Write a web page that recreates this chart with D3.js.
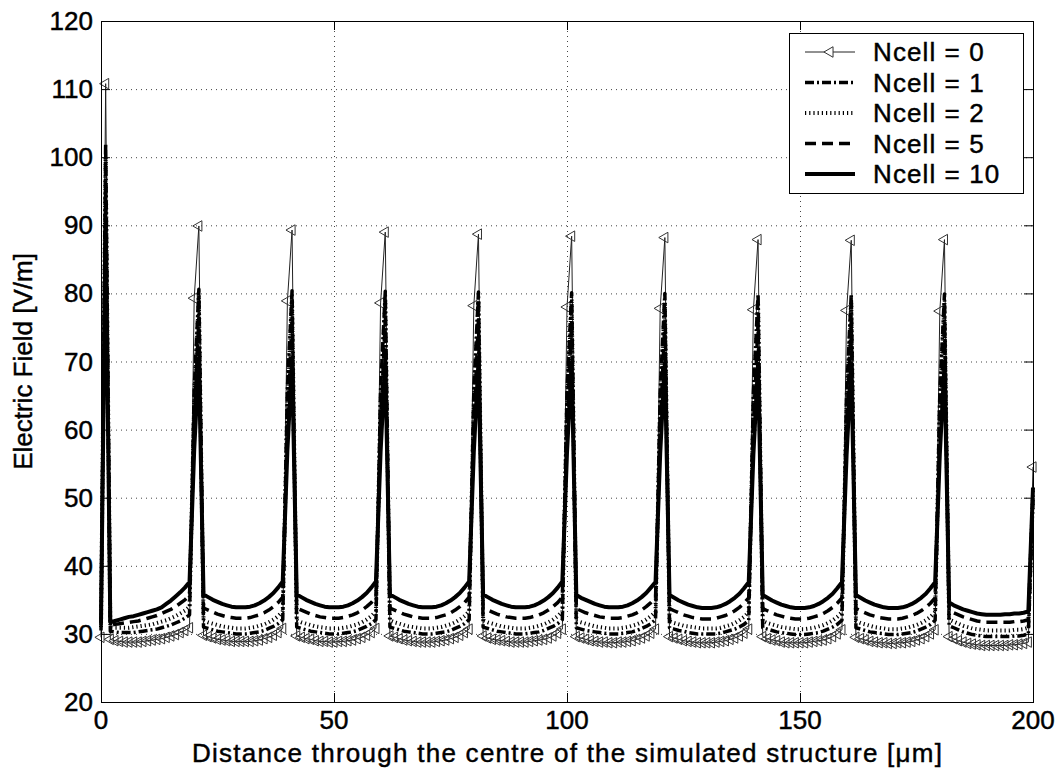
<!DOCTYPE html>
<html>
<head>
<meta charset="utf-8">
<script src="https://d3js.org/d3.v7.min.js"></script>
<style>
    body { margin: 0; background: #fff; }
    text { font-family: "Liberation Sans", Arial, sans-serif; fill: #000; stroke: #000; stroke-width: 0.45px; }
</style>
</head>
<body>
<script>
// samples every 1 um along the structure (0..200)
const xPos = d3.range(0, 201);
const xTicks = [0, 50, 100, 150, 200];
const yTicks = [20, 30, 40, 50, 60, 70, 80, 90, 100, 110, 120];
const seriesNames = ["Ncell = 0", "Ncell = 1", "Ncell = 2", "Ncell = 5", "Ncell = 10"];

// one row per cell: peak, 18 points of the bowl, rise before the next peak
const ncell0 = [29.5,
    110.8, 29.2, 29.0, 28.9, 28.8, 28.8, 28.8, 28.8, 28.9, 29.0, 29.1, 29.2, 29.3, 29.5, 29.7, 29.9, 30.2, 30.5, 30.9, 79.3,
    89.9, 29.8, 29.6, 29.4, 29.2, 29.1, 29.0, 28.9, 28.9, 28.9, 28.9, 28.9, 29.0, 29.1, 29.3, 29.5, 29.8, 30.2, 30.8, 78.9,
    89.3, 29.7, 29.5, 29.3, 29.2, 29.0, 28.9, 28.9, 28.8, 28.8, 28.9, 28.9, 29.0, 29.1, 29.3, 29.5, 29.8, 30.2, 30.8, 78.6,
    89.0, 29.7, 29.5, 29.3, 29.1, 29.0, 28.9, 28.8, 28.8, 28.8, 28.8, 28.9, 29.0, 29.1, 29.3, 29.5, 29.8, 30.2, 30.7, 78.2,
    88.7, 29.7, 29.4, 29.2, 29.1, 29.0, 28.9, 28.8, 28.8, 28.8, 28.8, 28.9, 29.0, 29.1, 29.2, 29.4, 29.7, 30.1, 30.7, 78.0,
    88.4, 29.6, 29.4, 29.2, 29.0, 28.9, 28.8, 28.8, 28.7, 28.7, 28.8, 28.8, 28.9, 29.0, 29.2, 29.4, 29.7, 30.1, 30.7, 77.8,
    88.2, 29.6, 29.4, 29.2, 29.0, 28.9, 28.8, 28.7, 28.7, 28.7, 28.7, 28.8, 28.9, 29.0, 29.2, 29.4, 29.7, 30.1, 30.7, 77.6,
    87.9, 29.6, 29.3, 29.1, 29.0, 28.8, 28.7, 28.7, 28.7, 28.7, 28.7, 28.8, 28.9, 29.0, 29.1, 29.3, 29.6, 30.0, 30.6, 77.5,
    87.8, 29.5, 29.3, 29.1, 28.9, 28.8, 28.7, 28.7, 28.6, 28.6, 28.7, 28.7, 28.8, 28.9, 29.1, 29.3, 29.6, 30.0, 30.6, 77.4,
    87.9, 29.6, 29.3, 29.0, 28.8, 28.6, 28.5, 28.4, 28.3, 28.3, 28.3, 28.3, 28.3, 28.3, 28.4, 28.4, 28.5, 28.6, 28.8, 54.5
];
const ncell1 = [30.5,
    102.0, 30.4, 30.3, 30.2, 30.2, 30.2, 30.2, 30.3, 30.4, 30.5, 30.6, 30.7, 30.9, 31.1, 31.3, 31.6, 31.9, 32.3, 32.8, 66.0,
    80.6, 31.0, 30.8, 30.6, 30.4, 30.3, 30.2, 30.1, 30.0, 30.0, 30.0, 30.1, 30.2, 30.3, 30.5, 30.8, 31.1, 31.5, 32.1, 66.0,
    80.4, 31.0, 30.8, 30.6, 30.4, 30.3, 30.2, 30.1, 30.0, 30.0, 30.0, 30.1, 30.2, 30.3, 30.5, 30.8, 31.1, 31.5, 32.1, 65.8,
    80.3, 31.0, 30.8, 30.6, 30.4, 30.3, 30.2, 30.1, 30.0, 30.0, 30.0, 30.1, 30.2, 30.3, 30.5, 30.8, 31.1, 31.5, 32.1, 65.7,
    80.2, 31.0, 30.8, 30.6, 30.4, 30.3, 30.2, 30.1, 30.0, 30.0, 30.0, 30.1, 30.2, 30.3, 30.5, 30.8, 31.1, 31.5, 32.1, 65.6,
    80.1, 30.9, 30.7, 30.5, 30.4, 30.3, 30.2, 30.1, 30.0, 30.0, 30.0, 30.1, 30.2, 30.3, 30.5, 30.8, 31.1, 31.5, 32.1, 65.5,
    80.0, 30.9, 30.7, 30.5, 30.4, 30.2, 30.1, 30.0, 30.0, 30.0, 30.0, 30.0, 30.1, 30.3, 30.5, 30.7, 31.0, 31.4, 32.0, 65.4,
    79.9, 30.9, 30.7, 30.5, 30.3, 30.2, 30.1, 30.0, 29.9, 29.9, 29.9, 30.0, 30.1, 30.2, 30.4, 30.7, 31.0, 31.4, 32.0, 65.3,
    79.9, 30.9, 30.7, 30.5, 30.3, 30.2, 30.1, 30.0, 29.9, 29.9, 29.9, 30.0, 30.1, 30.2, 30.4, 30.7, 31.0, 31.4, 32.0, 65.3,
    79.9, 31.2, 30.9, 30.6, 30.3, 30.1, 29.9, 29.8, 29.7, 29.6, 29.6, 29.6, 29.6, 29.6, 29.6, 29.7, 29.7, 29.8, 30.0, 50.0
];
const ncell2 = [31.0,
    100.0, 31.0, 30.9, 30.9, 30.9, 30.9, 31.0, 31.1, 31.2, 31.3, 31.4, 31.6, 31.8, 32.0, 32.3, 32.6, 33.0, 33.4, 34.0, 64.0,
    79.3, 32.0, 31.7, 31.5, 31.3, 31.1, 31.0, 30.9, 30.8, 30.8, 30.8, 30.9, 31.0, 31.2, 31.4, 31.7, 32.1, 32.6, 33.3, 64.0,
    79.1, 32.0, 31.7, 31.5, 31.3, 31.1, 31.0, 30.9, 30.8, 30.8, 30.8, 30.9, 31.0, 31.2, 31.4, 31.7, 32.1, 32.6, 33.3, 63.8,
    79.0, 32.0, 31.7, 31.5, 31.3, 31.1, 31.0, 30.9, 30.8, 30.8, 30.8, 30.9, 31.0, 31.2, 31.4, 31.7, 32.1, 32.6, 33.3, 63.7,
    78.9, 32.0, 31.7, 31.5, 31.3, 31.1, 31.0, 30.9, 30.8, 30.8, 30.8, 30.9, 31.0, 31.2, 31.4, 31.7, 32.1, 32.6, 33.3, 63.6,
    78.8, 31.9, 31.7, 31.5, 31.3, 31.1, 31.0, 30.9, 30.8, 30.8, 30.8, 30.9, 31.0, 31.2, 31.4, 31.7, 32.1, 32.6, 33.2, 63.5,
    78.7, 31.9, 31.6, 31.4, 31.2, 31.1, 31.0, 30.9, 30.8, 30.8, 30.8, 30.8, 30.9, 31.1, 31.3, 31.6, 32.0, 32.5, 33.2, 63.4,
    78.6, 31.9, 31.6, 31.4, 31.2, 31.0, 30.9, 30.8, 30.7, 30.7, 30.7, 30.8, 30.9, 31.1, 31.3, 31.6, 32.0, 32.5, 33.2, 63.3,
    78.6, 31.9, 31.6, 31.4, 31.2, 31.0, 30.9, 30.8, 30.7, 30.7, 30.7, 30.8, 30.9, 31.1, 31.3, 31.6, 32.0, 32.5, 33.2, 63.3,
    78.6, 32.1, 31.8, 31.5, 31.2, 31.0, 30.8, 30.7, 30.6, 30.5, 30.5, 30.5, 30.5, 30.5, 30.5, 30.6, 30.6, 30.7, 30.9, 50.5
];
const ncell5 = [31.3,
    96.0, 31.3, 31.4, 31.5, 31.6, 31.7, 31.8, 31.9, 32.1, 32.3, 32.5, 32.7, 33.0, 33.3, 33.6, 34.0, 34.5, 35.0, 35.7, 61.0,
    76.4, 33.8, 33.5, 33.2, 32.9, 32.7, 32.5, 32.4, 32.3, 32.3, 32.3, 32.4, 32.6, 32.8, 33.1, 33.5, 34.0, 34.6, 35.4, 61.0,
    76.2, 33.8, 33.5, 33.2, 32.9, 32.7, 32.5, 32.4, 32.3, 32.3, 32.3, 32.4, 32.6, 32.8, 33.1, 33.5, 34.0, 34.6, 35.4, 60.8,
    76.1, 33.8, 33.5, 33.2, 32.9, 32.7, 32.5, 32.4, 32.3, 32.3, 32.3, 32.4, 32.6, 32.8, 33.1, 33.5, 34.0, 34.6, 35.4, 60.7,
    76.0, 33.8, 33.5, 33.2, 32.9, 32.7, 32.5, 32.4, 32.3, 32.3, 32.3, 32.4, 32.6, 32.8, 33.1, 33.5, 34.0, 34.6, 35.4, 60.6,
    75.9, 33.7, 33.4, 33.1, 32.9, 32.7, 32.5, 32.4, 32.3, 32.3, 32.3, 32.4, 32.6, 32.8, 33.1, 33.5, 34.0, 34.6, 35.3, 60.5,
    75.8, 33.7, 33.4, 33.1, 32.8, 32.6, 32.4, 32.3, 32.2, 32.2, 32.2, 32.3, 32.5, 32.7, 33.0, 33.4, 33.9, 34.5, 35.3, 60.4,
    75.7, 33.7, 33.4, 33.1, 32.8, 32.6, 32.4, 32.3, 32.2, 32.2, 32.2, 32.3, 32.5, 32.7, 33.0, 33.4, 33.9, 34.5, 35.3, 60.3,
    75.7, 33.7, 33.4, 33.1, 32.8, 32.6, 32.4, 32.3, 32.2, 32.2, 32.2, 32.3, 32.5, 32.7, 33.0, 33.4, 33.9, 34.5, 35.3, 60.3,
    75.6, 33.4, 33.1, 32.8, 32.5, 32.3, 32.1, 31.9, 31.8, 31.7, 31.7, 31.7, 31.7, 31.7, 31.7, 31.8, 31.8, 31.9, 32.1, 51.0
];
const ncell10 = [31.7,
    90.0, 31.7, 31.9, 32.1, 32.3, 32.5, 32.6, 32.8, 33.0, 33.2, 33.4, 33.6, 33.9, 34.4, 34.9, 35.5, 36.1, 36.8, 37.6, 57.0,
    70.4, 35.8, 35.4, 35.0, 34.7, 34.4, 34.2, 34.0, 33.9, 33.9, 33.9, 34.0, 34.2, 34.5, 34.9, 35.4, 36.0, 36.8, 37.7, 57.0,
    70.2, 35.8, 35.4, 35.0, 34.7, 34.4, 34.2, 34.0, 33.9, 33.9, 33.9, 34.0, 34.2, 34.5, 34.9, 35.4, 36.0, 36.8, 37.7, 56.8,
    70.1, 35.8, 35.4, 35.0, 34.7, 34.4, 34.2, 34.0, 33.9, 33.9, 33.9, 34.0, 34.2, 34.5, 34.9, 35.4, 36.0, 36.8, 37.7, 56.7,
    70.0, 35.8, 35.4, 35.0, 34.7, 34.4, 34.2, 34.0, 33.9, 33.9, 33.9, 34.0, 34.2, 34.5, 34.9, 35.4, 36.0, 36.8, 37.7, 56.6,
    69.9, 35.7, 35.3, 35.0, 34.7, 34.4, 34.2, 34.0, 33.9, 33.9, 33.9, 34.0, 34.2, 34.5, 34.9, 35.4, 36.0, 36.8, 37.6, 56.5,
    69.8, 35.7, 35.3, 34.9, 34.6, 34.3, 34.1, 33.9, 33.8, 33.8, 33.8, 33.9, 34.1, 34.4, 34.8, 35.3, 35.9, 36.7, 37.6, 56.4,
    69.7, 35.7, 35.3, 34.9, 34.6, 34.3, 34.1, 33.9, 33.8, 33.8, 33.8, 33.9, 34.1, 34.4, 34.8, 35.3, 35.9, 36.7, 37.6, 56.3,
    69.7, 35.7, 35.3, 34.9, 34.6, 34.3, 34.1, 33.9, 33.8, 33.8, 33.8, 33.9, 34.1, 34.4, 34.8, 35.3, 35.9, 36.7, 37.6, 56.3,
    69.5, 34.6, 34.2, 33.9, 33.6, 33.4, 33.2, 33.0, 32.9, 32.8, 32.8, 32.8, 32.8, 32.9, 32.9, 33.0, 33.0, 33.1, 33.3, 51.5
];

const allSeries = [ncell0, ncell1, ncell2, ncell5, ncell10];

// line styles, matlab-ish: '-<', '-.', ':', '--', '-'
// the dotted one is drawn wide with 1px dashes so it shows as little vertical ticks
const lineStyles = [
    {width: 1,   dash: null,      color: "#222"},
    {width: 3.5, dash: "9,3,2,3", color: "#000"},
    {width: 4,   dash: "1.2,3",   color: "#000"},
    {width: 3.5, dash: "11,6",    color: "#000"},
    {width: 4,   dash: null,      color: "#000"}
];

const width = 1061;
const height = 772;
const margin = {top: 21, right: 28, bottom: 70, left: 101};
const fontSize = 26;

const svg = d3.select("body")
    .append("svg")
    .attr("width", width)
    .attr("height", height);

svg.append("rect").attr("width", width).attr("height", height).attr("fill", "#fff");

const xScale = d3.scaleLinear()
    .domain([0, 200])
    .range([margin.left, width - margin.right]);
const yScale = d3.scaleLinear()
    .domain([20, 120])
    .range([height - margin.bottom, margin.top]);

const x0 = xScale.range()[0], x1 = xScale.range()[1];
const y0 = yScale.range()[0], y1 = yScale.range()[1];

// dotted grid
const grid = svg.append("g")
    .attr("stroke", "#444")
    .attr("stroke-width", 1)
    .attr("stroke-dasharray", "1,4");
grid.selectAll(".vgrid")
    .data(xTicks.slice(1, -1))
    .join("line")
    .attr("x1", d => xScale(d) + 0.5).attr("x2", d => xScale(d) + 0.5)
    .attr("y1", y1).attr("y2", y0);
grid.selectAll(".hgrid")
    .data(yTicks.slice(1, -1))
    .join("line")
    .attr("x1", x0).attr("x2", x1)
    .attr("y1", d => yScale(d) + 0.5).attr("y2", d => yScale(d) + 0.5);

// curves
const lineGen = d3.line()
    .x((d, i) => xScale(xPos[i]))
    .y(d => yScale(d));

const triangle = d3.symbol().type(d3.symbolTriangle).size(48);

const plot = svg.append("g");
allSeries.forEach((values, k) => {
    const st = lineStyles[k];
    plot.append("path")
        .attr("d", lineGen(values))
        .attr("fill", "none")
        .attr("stroke", st.color)
        .attr("stroke-width", st.width)
        .attr("stroke-linejoin", "round")
        .attr("stroke-dasharray", st.dash);
    if (k === 0) {
        // left pointing triangles on every sample
        plot.append("g").selectAll("path")
            .data(values)
            .join("path")
            .attr("d", triangle)
            .attr("transform", (d, i) => `translate(${xScale(xPos[i])},${yScale(d)}) rotate(-90)`)
            .attr("fill", "none")
            .attr("stroke", "#333")
            .attr("stroke-width", 1);
    }
});

// box + inward ticks on all four sides
const tickLen = 9;
const axes = svg.append("g").attr("stroke", "#000").attr("stroke-width", 1).attr("fill", "none");
axes.append("rect")
    .attr("x", x0 + 0.5).attr("y", y1 + 0.5)
    .attr("width", x1 - x0).attr("height", y0 - y1);
xTicks.forEach(t => {
    const x = xScale(t) + 0.5;
    axes.append("line").attr("x1", x).attr("x2", x).attr("y1", y0).attr("y2", y0 - tickLen);
    axes.append("line").attr("x1", x).attr("x2", x).attr("y1", y1).attr("y2", y1 + tickLen);
});
yTicks.forEach(t => {
    const y = yScale(t) + 0.5;
    axes.append("line").attr("x1", x0).attr("x2", x0 + tickLen).attr("y1", y).attr("y2", y);
    axes.append("line").attr("x1", x1).attr("x2", x1 - tickLen).attr("y1", y).attr("y2", y);
});

// tick labels
svg.append("g").selectAll("text")
    .data(xTicks)
    .join("text")
    .attr("x", d => xScale(d))
    .attr("y", y0 + 27)
    .attr("text-anchor", "middle")
    .attr("font-size", fontSize)
    .text(d => d);
svg.append("g").selectAll("text")
    .data(yTicks)
    .join("text")
    .attr("x", x0 - 8)
    .attr("y", d => yScale(d) + 9)
    .attr("text-anchor", "end")
    .attr("font-size", fontSize)
    .text(d => d);

// axis titles
svg.append("text")
    .attr("x", (x0 + x1) / 2)
    .attr("y", height - 10)
    .attr("text-anchor", "middle")
    .attr("font-size", fontSize)
    .attr("textLength", 750)
    .attr("lengthAdjust", "spacing")
    .text("Distance through the centre of the simulated structure [\u03bcm]");
svg.append("text")
    .attr("transform", `translate(32,${(y0 + y1) / 2}) rotate(-90)`)
    .attr("text-anchor", "middle")
    .attr("font-size", fontSize)
    .text("Electric Field [V/m]");

// legend
const legend = svg.append("g").attr("transform", "translate(789,33)");
legend.append("rect")
    .attr("x", 0.5).attr("y", 0.5)
    .attr("width", 234).attr("height", 160)
    .attr("fill", "#fff").attr("stroke", "#000");
seriesNames.forEach((name, k) => {
    const st = lineStyles[k];
    const ly = 19 + k * 30.5;
    legend.append("line")
        .attr("x1", 16).attr("x2", 66)
        .attr("y1", ly).attr("y2", ly)
        .attr("stroke", st.color)
        .attr("stroke-width", st.width)
        .attr("stroke-dasharray", st.dash);
    if (k === 0) {
        legend.append("path")
            .attr("d", triangle)
            .attr("transform", `translate(41,${ly}) rotate(-90)`)
            .attr("fill", "#fff")
            .attr("stroke", "#333");
    }
    legend.append("text")
        .attr("x", 84)
        .attr("y", ly + 9)
        .attr("font-size", fontSize)
        .attr("letter-spacing", 1.1)
        .text(name);
});
</script>
</body>
</html>
